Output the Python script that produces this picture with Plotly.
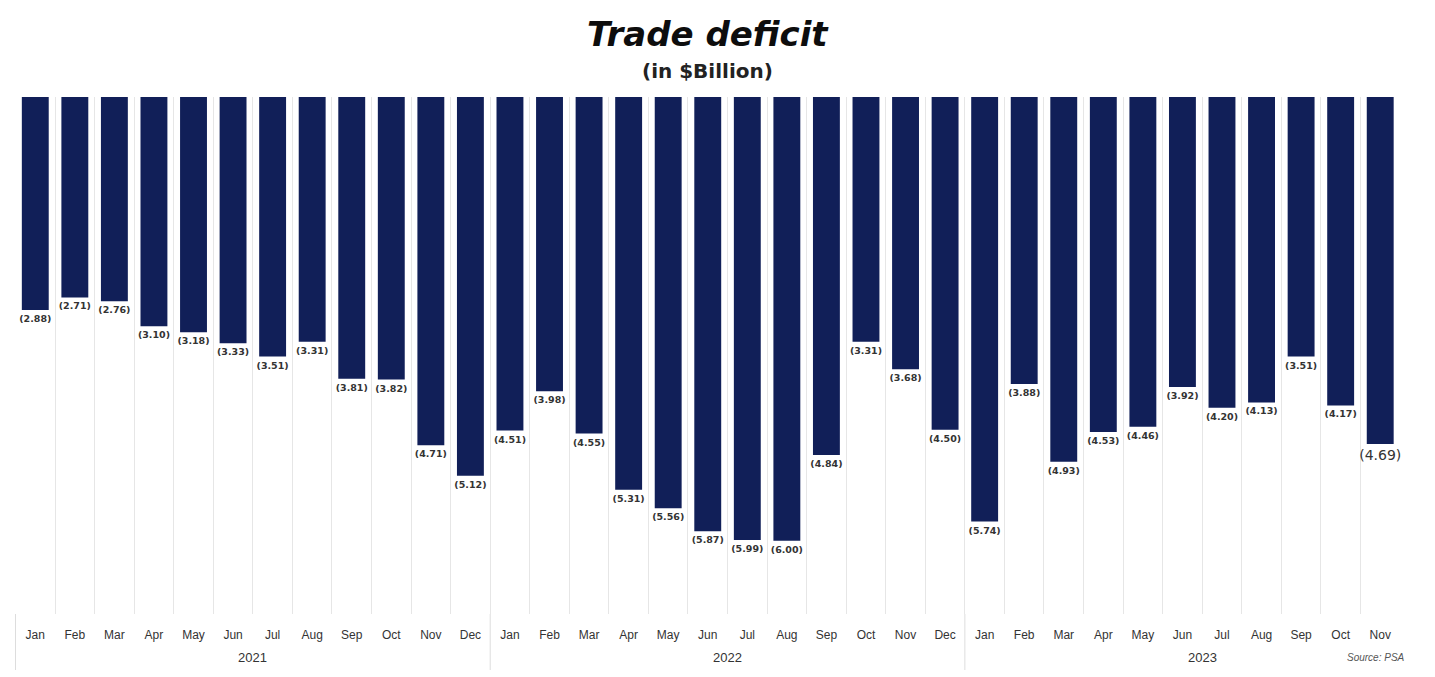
import plotly.graph_objects as go

months = ["Jan", "Feb", "Mar", "Apr", "May", "Jun", "Jul", "Aug", "Sep", "Oct", "Nov", "Dec"]
years = ["2021", "2022", "2023"]
deficit_2021 = [2.88, 2.71, 2.76, 3.10, 3.18, 3.33, 3.51, 3.31, 3.81, 3.82, 4.71, 5.12]
deficit_2022 = [4.51, 3.98, 4.55, 5.31, 5.56, 5.87, 5.99, 6.00, 4.84, 3.31, 3.68, 4.50]
deficit_2023 = [5.74, 3.88, 4.93, 4.53, 4.46, 3.92, 4.20, 4.13, 3.51, 4.17, 4.69]

series = [deficit_2021, deficit_2022, deficit_2023]
keys, tick_text, values = [], [], []
year_spans = []
for yr, vals in zip(years, series):
    start = len(keys)
    for m, v in zip(months, vals):
        keys.append(f"{yr}-{m}")
        tick_text.append(m)
        values.append(v)
    year_spans.append((yr, start, len(keys) - 1))

labels = ["({:.2f})".format(v) for v in values]
label_sizes = [9.5] * len(values)
label_sizes[-1] = 14
label_text = [f"<b>{t}</b>" for t in labels[:-1]] + [labels[-1]]

H, T, B = 677, 97, 63
plot_h = H - T - B


def py(px):
    """convert a pixel row from the top of the page to paper y"""
    return (H - B - px) / plot_h


fig = go.Figure(go.Bar(
    x=keys,
    y=[-v for v in values],
    marker=dict(color="#111f58", line=dict(width=0)),
    text=label_text,
    textposition="outside",
    constraintext="none",
    textfont=dict(size=label_sizes, color="#333333", family="DejaVu Sans"),
    cliponaxis=False,
    hoverinfo="skip",
))

shapes = []
annotations = []
for yr, s, e in year_spans:
    shapes.append(dict(type="line", xref="x", yref="paper",
                       x0=s - 0.5, x1=s - 0.5, y0=0, y1=py(670),
                       line=dict(color="#dddddd", width=1)))
    annotations.append(dict(text=yr, xref="x", yref="paper",
                            x=(s + e) / 2 + (0.5 if e - s < 11 else 0), y=py(657),
                            showarrow=False, xanchor="center", yanchor="middle",
                            font=dict(size=13, color="#333333", family="Liberation Sans")))

annotations += [
    dict(text="<b><i>Trade deficit</i></b>", xref="paper", yref="paper",
         x=0.5, y=py(34), xanchor="center", yanchor="middle", showarrow=False,
         font=dict(size=34, color="#0d0d0d", family="DejaVu Sans")),
    dict(text="<b>(in $Billion)</b>", xref="paper", yref="paper",
         x=0.5, y=py(71), xanchor="center", yanchor="middle", showarrow=False,
         font=dict(size=20, color="#222222", family="DejaVu Sans")),
    dict(text="<i>Source: PSA</i>", xref="paper", yref="paper",
         x=1.005, y=py(657), xanchor="right", yanchor="middle", showarrow=False,
         font=dict(size=10, color="#555555", family="Liberation Sans")),
]

fig.update_layout(
    width=1435, height=H,
    margin=dict(l=15, r=35, t=T, b=B),
    paper_bgcolor="white", plot_bgcolor="white",
    bargap=0.32,
    showlegend=False,
    uniformtext=dict(mode=False),
    font=dict(family="Liberation Sans", color="#333333"),
    xaxis=dict(
        type="category",
        tickmode="array", tickvals=keys, ticktext=tick_text,
        tickson="boundaries",
        showgrid=True, gridcolor="#e6e6e6", gridwidth=1,
        showline=False, ticks="",
        ticklabelstandoff=12,
        tickfont=dict(size=12, color="#333333", family="Liberation Sans"),
        zeroline=False, automargin=False,
    ),
    yaxis=dict(range=[-6.99, 0], visible=False, showgrid=False, zeroline=False),
    shapes=shapes,
    annotations=annotations,
)

fig.write_html("out.html", config={"displayModeBar": False},
               post_script="document.body.style.margin='0';document.body.style.overflow='hidden';")
